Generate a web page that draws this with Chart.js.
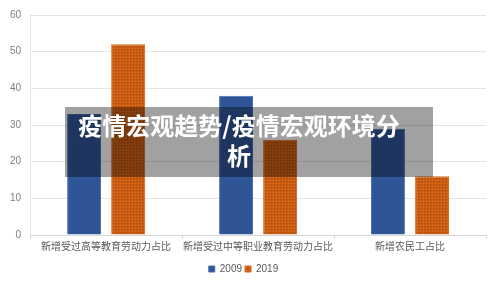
<!DOCTYPE html>
<html>
<head>
<meta charset="utf-8">
<script src="https://cdn.jsdelivr.net/npm/chart.js@4/dist/chart.umd.min.js"></script>
<style>
  html, body { margin: 0; padding: 0; background: #fff; }
  #wrap { position: relative; width: 500px; height: 284px; }
  #overlay {
    position: absolute; left: 65px; top: 107px; width: 368px; height: 70px;
    background: rgba(0, 0, 0, 0.37);
    color: #fff; font-family: "Noto Sans CJK SC", sans-serif; font-weight: bold;
    font-size: 24px; line-height: 30px; text-align: center;
    padding: 3px 28px 0 8px; box-sizing: border-box;
  }
</style>
</head>
<body>
<div id="wrap">
  <canvas id="barChart" width="500" height="284"></canvas>
  <div id="overlay">疫情宏观趋势/疫情宏观环境分析</div>
</div>
<script>
var categories = ['新增受过高等教育劳动力占比', '新增受过中等职业教育劳动力占比', '新增农民工占比'];
var values2009 = [33, 38, 29];
var values2019 = [52, 26, 16];
var yTicks = [0, 10, 20, 30, 40, 50, 60];

// dotted orange texture like the original
function orangePattern() {
    var c = document.createElement('canvas');
    c.width = 3; c.height = 3;
    var g = c.getContext('2d');
    g.fillStyle = '#c95c12';
    g.fillRect(0, 0, 3, 3);
    g.fillStyle = '#a84a0c';
    g.fillRect(1, 1, 1, 1);
    g.fillStyle = '#e27420';
    g.fillRect(0, 0, 1, 1);
    return g.createPattern(c, 'repeat');
}

function barChart() {
    var ctx = document.getElementById('barChart').getContext('2d');
    var myChart = new Chart(ctx, {
        type: 'bar',
        data: {
            labels: categories,
            datasets: [
                { label: '2009', data: values2009, backgroundColor: '#2f5597', borderColor: '#4a6fae', borderWidth: 1 },
                { label: '2019', data: values2019, backgroundColor: orangePattern(), borderColor: '#d86a1c', borderWidth: 1 }
            ]
        },
        options: {
            responsive: false,
            animation: false,
            categoryPercentage: 0.58,
            barPercentage: 0.77,
            layout: { padding: { left: 1, right: 14, top: 0, bottom: 0 } },
            plugins: {
                tooltip: { enabled: false },
                legend: {
                    position: 'bottom',
                    labels: {
                        color: '#595959',
                        boxWidth: 6,
                        boxHeight: 6,
                        padding: 3,
                        font: { size: 10, family: 'Liberation Sans' }
                    }
                }
            },
            scales: {
                x: {
                    grid: { display: true, drawOnChartArea: false, tickLength: 4, color: '#d9d9d9' },
                    border: { color: '#d9d9d9' },
                    afterFit: function (axis) { axis.height += 8; },
                    ticks: {
                        color: '#595959',
                        maxRotation: 0,
                        autoSkip: false,
                        padding: 1,
                        font: { size: 10, family: 'Noto Sans CJK SC' }
                    }
                },
                y: {
                    min: 0,
                    max: 60,
                    afterBuildTicks: function (axis) {
                        axis.ticks = yTicks.map(function (v) { return { value: v }; });
                    },
                    ticks: {
                        color: '#7f7f7f',
                        padding: 9,
                        font: { size: 10, family: 'Liberation Sans' }
                    },
                    grid: { color: '#e4e4e4', drawTicks: false },
                    border: { color: '#e4e4e4' }
                }
            }
        }
    });
}
barChart();
</script>
</body>
</html>
